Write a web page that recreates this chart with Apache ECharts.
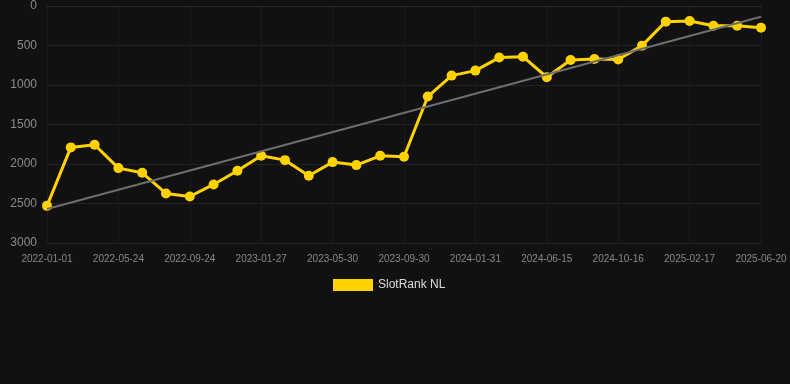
<!DOCTYPE html>
<html>
<head>
<meta charset="utf-8">
<title>SlotRank NL</title>
<script src="https://cdn.jsdelivr.net/npm/echarts@6/dist/echarts.min.js"></script>
<style>
  html, body { margin: 0; padding: 0; background: #111111; }
  #chart { width: 790px; height: 384px; }
</style>
</head>
<body>
<div id="chart"></div>
<script>
// dates on the x axis (only every third one is printed)
var dates = [
    '2022-01-01', '2022-02-17', '2022-04-06', '2022-05-24', '2022-07-04', '2022-08-14',
    '2022-09-24', '2022-11-05', '2022-12-16', '2023-01-27', '2023-03-09', '2023-04-19',
    '2023-05-30', '2023-07-10', '2023-08-20', '2023-09-30', '2023-11-10', '2023-12-21',
    '2024-01-31', '2024-03-16', '2024-04-30', '2024-06-15', '2024-07-26', '2024-09-05',
    '2024-10-16', '2024-11-26', '2025-01-07', '2025-02-17', '2025-03-30', '2025-05-10',
    '2025-06-20'
];
// rank values (lower is better, axis is inverted)
var ranks = [
    2530, 1790, 1757, 2052, 2111, 2373, 2411, 2259, 2086, 1896, 1951,
    2149, 1976, 2014, 1896, 1909, 1146, 881, 818, 653, 641, 902,
    683, 670, 678, 502, 198, 190, 249, 249, 274
];
// trend line end values
var trendEnds = [2570, 135];

var rankChart = {
    init: function () {
        var that = this
        that.draw()
    },
    draw: function () {
        var myChart = echarts.init(document.getElementById('chart'));
        var option = {
            backgroundColor: '#111111',
            animation: false,
            grid: {
                left: 47,
                right: 29,
                top: 6,
                bottom: 141
            },
            legend: {
                top: 274,
                left: 328,
                itemWidth: 40,
                itemHeight: 12,
                itemGap: 10,
                icon: 'rect',
                textStyle: {
                    color: '#dddddd',
                    fontSize: 12,
                    fontFamily: 'Arial, Liberation Sans, sans-serif'
                },
                data: ['SlotRank NL']
            },
            xAxis: {
                type: 'category',
                boundaryGap: false,
                data: dates,
                axisLine: { show: true, lineStyle: { color: '#2a2a2a' } },
                axisTick: { show: false },
                axisLabel: {
                    interval: 2,
                    color: '#888888',
                    fontSize: 10,
                    margin: 11,
                    fontFamily: 'Arial, Liberation Sans, sans-serif'
                },
                splitLine: {
                    show: true,
                    interval: 2,
                    lineStyle: { color: '#1c1c1c', width: 1 }
                }
            },
            yAxis: {
                type: 'value',
                inverse: true,
                min: 0,
                max: 3000,
                interval: 500,
                axisLine: { show: false },
                axisTick: { show: false },
                axisLabel: {
                    color: '#8c8c8c',
                    fontSize: 12,
                    margin: 10,
                    fontFamily: 'Arial, Liberation Sans, sans-serif',
                    formatter: function (v) { return String(v); }
                },
                splitLine: {
                    lineStyle: { color: '#222222', width: 1 }
                }
            },
            series: [{
                name: 'SlotRank NL',
                type: 'line',
                data: ranks,
                symbol: 'circle',
                symbolSize: 10,
                showAllSymbol: true,
                lineStyle: { color: '#ffd200', width: 3 },
                itemStyle: { color: '#ffd200' },
                markLine: {
                    silent: true,
                    symbol: ['none', 'none'],
                    label: { show: false },
                    lineStyle: { color: '#6e6e6e', width: 2, type: 'solid' },
                    data: [[
                        { coord: [dates[0], trendEnds[0]] },
                        { coord: [dates[dates.length - 1], trendEnds[1]] }
                    ]]
                }
            }]
        };
        myChart.setOption(option);
        window.onresize = myChart.resize;
    }
}
rankChart.init();
</script>
</body>
</html>
